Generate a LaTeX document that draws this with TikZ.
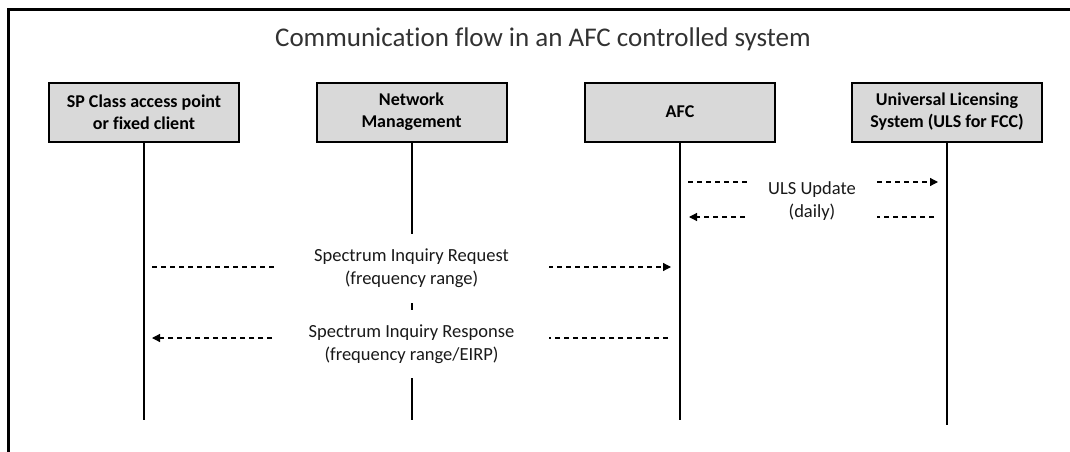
\documentclass[tikz,border=0pt]{standalone}
\usepackage{fontspec}
\setmainfont{Carlito}[Ligatures=NoCommon]
\usetikzlibrary{arrows.meta,positioning}
\definecolor{boxGray}{RGB}{217,217,217}
\definecolor{titleGray}{RGB}{50,50,50}
\tikzset{
    entityBox/.style={
        ,   draw=black
        ,   fill=boxGray
        ,   line width=2pt
        ,   minimum width=190pt
        ,   minimum height=59pt
        ,   align=center
        ,   font=\fontsize{18pt}{22pt}\selectfont\bfseries
    },
    lifeLine/.style={
        ,   line width=2pt
    },
    msgArrow/.style={
        ,   dash pattern=on 5pt off 4pt
        ,   line width=1.2pt
        ,   -{Triangle[length=8pt,width=8pt]}
        ,   shorten <=8pt
        ,   shorten >=9pt
    },
    msgLabel/.style={
        ,   fill=white
        ,   align=center
        ,   inner sep=0pt
        ,   font=\fontsize{18.5pt}{22.5pt}\selectfont
        ,   text=black!90
    }
}
\begin{document}
\begin{tikzpicture}[x=1pt,y=-1pt]
			\useasboundingbox (0,0) rectangle (1070,452);
			\draw[line width=3pt] (8.5,470) -- (8.5,9.5) -- (1090,9.5); % outer frame
			\node[font=\fontsize{27pt}{32pt}\selectfont, text=titleGray, anchor=base] (title) at (543,47) {Communication flow in an AFC controlled system};
			
			\node[entityBox] (sp) at (144,112) {SP Class access point\\or fixed client};
			\node[entityBox] (nm) at (411.5,112) {Network\\Management};
			\node[entityBox] (afc) at (680,112) {AFC};
			\node[entityBox] (uls) at (947,112) {Universal Licensing\\System (ULS for FCC)};
			
			\foreach \n/\y in {sp/420,nm/420,afc/420,uls/425}{
				\coordinate (\n End) at (\n.south |- 0,\y);
				\draw[lifeLine] (\n.south) -- (\n End);
			}
			
			% ULS update between AFC and ULS
			\coordinate (afcUp) at (680,182);
			\coordinate (ulsUp) at (947,182);
			\draw[msgArrow] (afcUp) -- (ulsUp);
			\coordinate (ulsDown) at (947,217);
			\coordinate (afcDown) at (680,217);
			\draw[msgArrow, shorten <=13pt] (ulsDown) -- (afcDown);
			\node[msgLabel, minimum width=130pt, minimum height=60pt] (ulsLbl) at (812,201) {ULS Update\\(daily)};
			
			% spectrum inquiry
			\coordinate (spReq) at (144,267);
			\coordinate (afcReq) at (680,267);
			\draw[msgArrow] (spReq) -- (afcReq);
			\node[msgLabel, minimum width=275pt, minimum height=69pt] (reqLbl) at (411.5,268) {Spectrum Inquiry Request\\(frequency range)};
			
			\coordinate (afcResp) at (680,338);
			\coordinate (spResp) at (144,338);
			\draw[msgArrow, shorten <=12pt, shorten >=8pt] (afcResp) -- (spResp);
			\node[msgLabel, minimum width=275pt, minimum height=68pt] (respLbl) at (411.5,344) {Spectrum Inquiry Response\\(frequency range/EIRP)};
			\end{tikzpicture}
\end{document}
